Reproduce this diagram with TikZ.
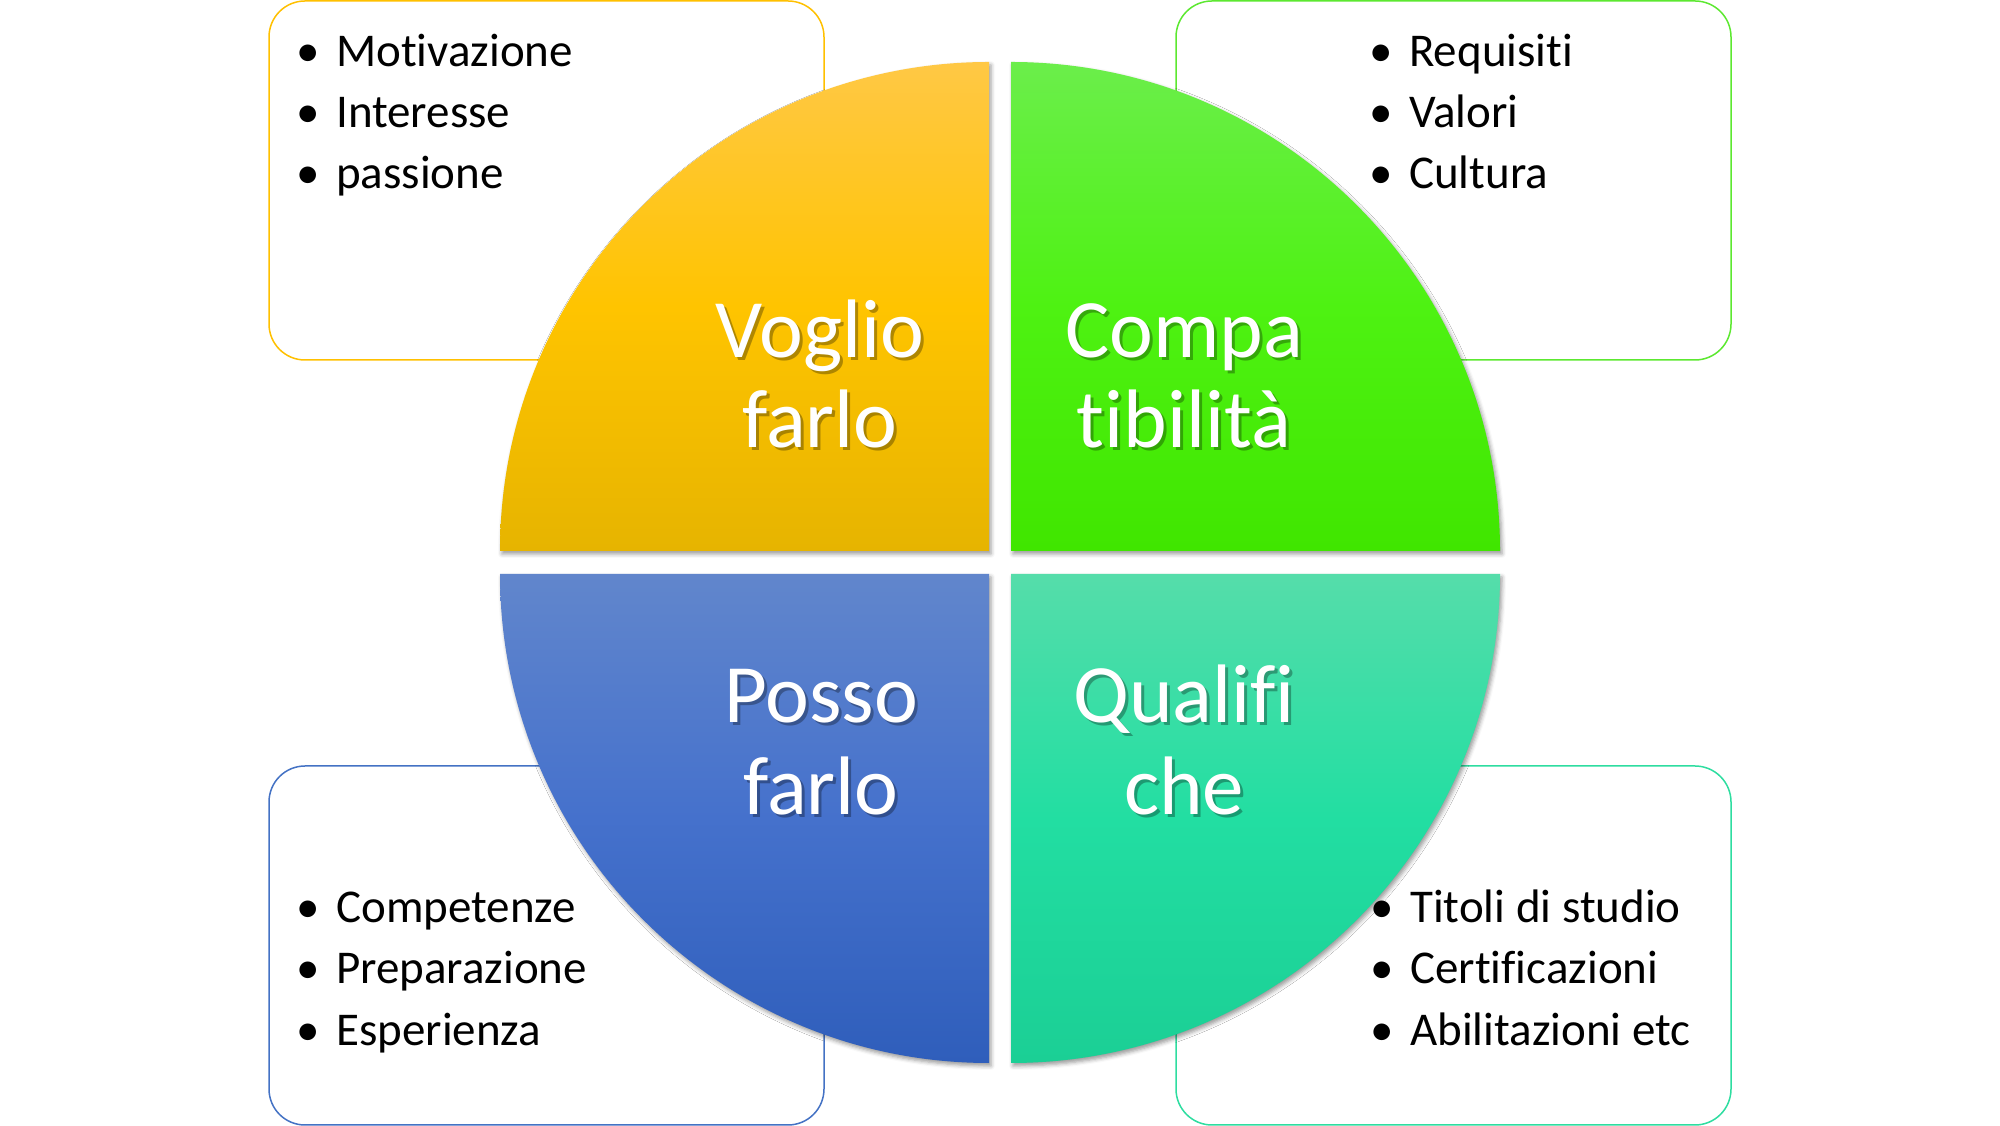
\documentclass[tikz,border=0pt]{standalone}
\usepackage{fontspec}
\setmainfont{Carlito}[Ligatures={NoCommon,NoContextual,NoRequired}, RawFeature={-calt}]
\usetikzlibrary{shadows.blur}
\definecolor{ylwTop}{HTML}{FFC845}
\definecolor{ylwMid}{HTML}{FFC400}
\definecolor{ylwBot}{HTML}{E6B400}
\definecolor{grnTop}{HTML}{6BEE4B}
\definecolor{grnMid}{HTML}{4EF212}
\definecolor{grnBot}{HTML}{40E600}
\definecolor{bluTop}{HTML}{6186CC}
\definecolor{bluMid}{HTML}{4571CC}
\definecolor{bluBot}{HTML}{2F5EBB}
\definecolor{tealTop}{HTML}{55DDAA}
\definecolor{tealMid}{HTML}{22DEA2}
\definecolor{tealBot}{HTML}{1BCF95}
\definecolor{ylwLine}{HTML}{FFC000}
\definecolor{grnLine}{HTML}{5CE830}
\definecolor{bluLine}{HTML}{4472C4}
\definecolor{tealLine}{HTML}{2EDDA0}
\begin{document}
\begin{tikzpicture}[x=1pt,y=1pt,
  box/.style={draw, line width=1.5pt, rounded corners=36pt, fill=white,
    minimum width=555pt, minimum height=359pt, inner sep=0pt},
  item/.style={anchor=base west, inner sep=0pt, text=black,
    font=\fontsize{47}{56}\selectfont},
  bul/.style={anchor=base, inner sep=0pt, text=black,
    font=\fontsize{47}{56}\selectfont},
  lbl/.style={anchor=base, inner sep=0pt, text=white,
    font=\fontsize{83}{92}\selectfont},
  lblsh/.style={anchor=base, inner sep=0pt, text=black, text opacity=0.3,
    font=\fontsize{83}{92}\selectfont},
  quad/.style={blur shadow={shadow xshift=2pt, shadow yshift=-3pt,
    shadow blur radius=4pt, shadow opacity=40}}
]
\useasboundingbox (0,0) rectangle (2000,1126);

% boxes
\node[box, draw=ylwLine]  (tl) at (546.5,945.5) {};
\node[box, draw=grnLine]  (tr) at (1453.5,945.5) {};
\node[box, draw=bluLine]  (bl) at (546.5,180.5) {};
\node[box, draw=tealLine] (br) at (1453.5,180.5) {};

% quadrants
\path[quad, top color=ylwTop, bottom color=ylwBot, middle color=ylwMid]
  (989,575) -- (500,575) arc[start angle=180, end angle=90, radius=489pt] -- cycle;
\path[quad, top color=grnTop, bottom color=grnBot, middle color=grnMid]
  (1011,575) -- (1011,1064) arc[start angle=90, end angle=0, radius=489pt] -- cycle;
\path[quad, top color=bluTop, bottom color=bluBot, middle color=bluMid]
  (989,552) -- (500,552) arc[start angle=180, end angle=270, radius=489pt] -- cycle;
\path[quad, top color=tealTop, bottom color=tealBot, middle color=tealMid]
  (1011,552) -- (1500,552) arc[start angle=0, end angle=-90, radius=489pt] -- cycle;

% quadrant labels (shadow then text)
\node[lblsh] (v1s) at (823,765) {Voglio};
\node[lblsh] (v2s) at (823,675) {farlo};
\node[lbl] (v1) at (820,768) {Voglio};
\node[lbl] (v2) at (820,678) {farlo};

\node[lblsh] (c1s) at (1187,765) {Compa};
\node[lblsh] (c2s) at (1187,675) {tibilità};
\node[lbl] (c1) at (1184,768) {Compa};
\node[lbl] (c2) at (1184,678) {tibilità};

\node[lblsh] (p1s) at (824,400) {Posso};
\node[lblsh] (p2s) at (824,308) {farlo};
\node[lbl] (p1) at (821,403) {Posso};
\node[lbl] (p2) at (821,311) {farlo};

\node[lblsh] (q1s) at (1187,400) {Qualifi};
\node[lblsh] (q2s) at (1187,308) {che};
\node[lbl] (q1) at (1184,403) {Qualifi};
\node[lbl] (q2) at (1184,311) {che};

% bullet lists
\node[bul] (tlb1) at (308,1059.3) {•};
\node[bul] (tlb2) at (308,998.3) {•};
\node[bul] (tlb3) at (308,937.5) {•};
\node[item] (tli1) at (336,1059.3) {Motivazione};
\node[item] (tli2) at (336,998.3) {Interesse};
\node[item] (tli3) at (336,937.5) {passione};

\node[bul] (trb1) at (1381,1059.3) {•};
\node[bul] (trb2) at (1381,998.3) {•};
\node[bul] (trb3) at (1381,937.5) {•};
\node[item] (tri1) at (1409,1059.3) {Requisiti};
\node[item] (tri2) at (1409,998.3) {Valori};
\node[item] (tri3) at (1409,937.5) {Cultura};

\node[bul] (blb1) at (308,203) {•};
\node[bul] (blb2) at (308,142) {•};
\node[bul] (blb3) at (308,80) {•};
\node[item] (bli1) at (336,203) {Competenze};
\node[item] (bli2) at (336,142) {Preparazione};
\node[item] (bli3) at (336,80) {Esperienza};

\node[bul] (brb1) at (1382,203) {•};
\node[bul] (brb2) at (1382,142) {•};
\node[bul] (brb3) at (1382,80) {•};
\node[item] (bri1) at (1410,203) {Titoli di studio};
\node[item] (bri2) at (1410,142) {Certificazioni};
\node[item] (bri3) at (1410,80) {Abilitazioni etc};
\end{tikzpicture}
\end{document}
